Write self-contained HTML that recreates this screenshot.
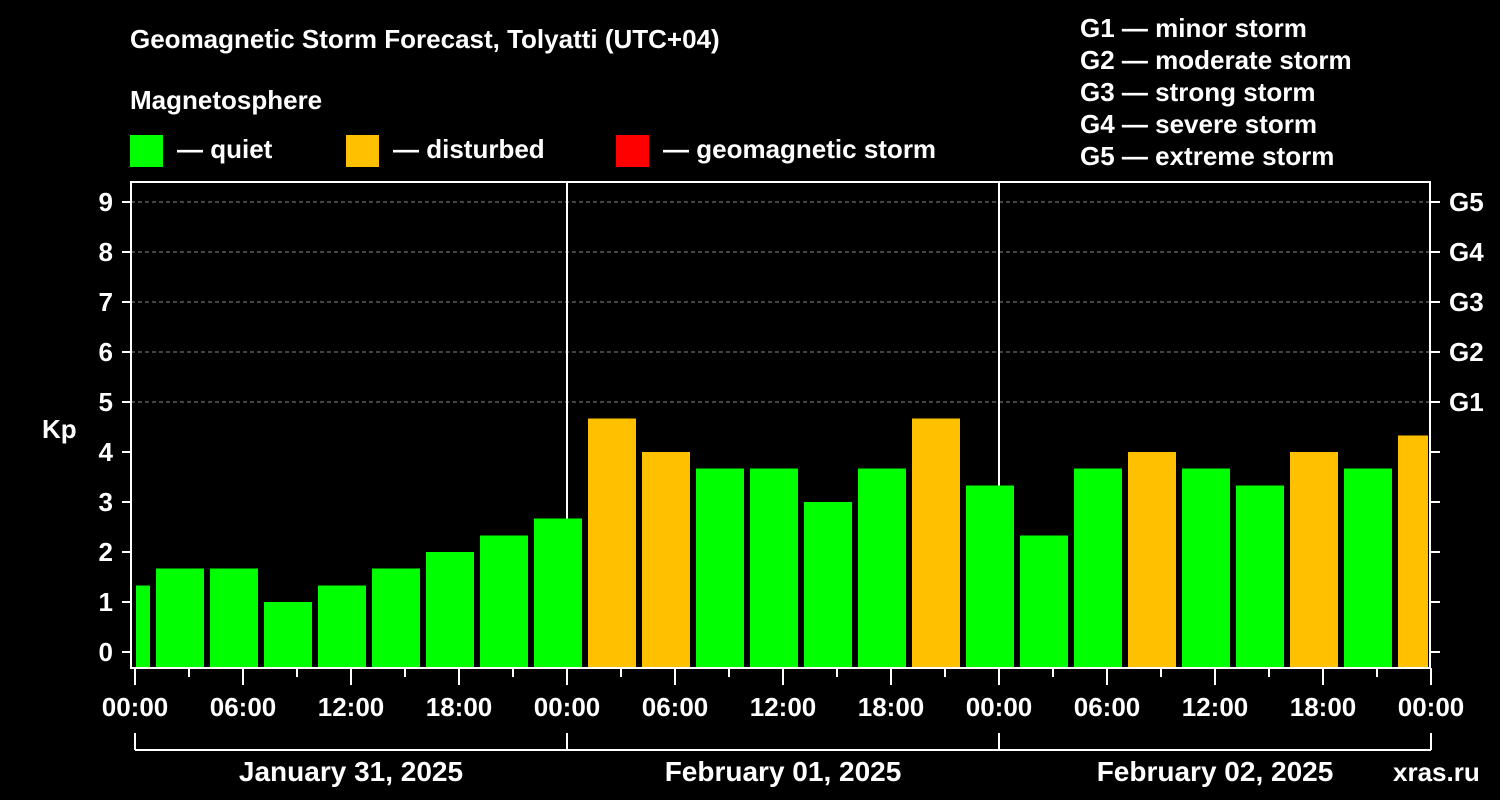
<!DOCTYPE html>
<html><head><meta charset="utf-8"><style>
html,body{margin:0;padding:0;background:#000;}
svg{display:block;font-family:"Liberation Sans",sans-serif;font-weight:bold;}
</style></head><body>
<svg id="chart" width="1500" height="800" viewBox="0 0 1500 800">
<rect width="1500" height="800" fill="#000"/>
<text x="130" y="48" fill="#fff" font-size="26">Geomagnetic Storm Forecast, Tolyatti (UTC+04)</text>
<text x="130" y="109" fill="#fff" font-size="26">Magnetosphere</text>
<g><rect x="130" y="135" width="33" height="32" fill="#00ff00"/><text x="177" y="158" fill="#fff" font-size="26">— quiet</text></g>
<g><rect x="346" y="135" width="33" height="32" fill="#ffc000"/><text x="393" y="158" fill="#fff" font-size="26">— disturbed</text></g>
<g><rect x="616" y="135" width="33" height="32" fill="#ff0000"/><text x="663" y="158" fill="#fff" font-size="26">— geomagnetic storm</text></g>
<g fill="#fff" font-size="26">
<text x="1080" y="37">G1 — minor storm</text>
<text x="1080" y="69">G2 — moderate storm</text>
<text x="1080" y="101">G3 — strong storm</text>
<text x="1080" y="133">G4 — severe storm</text>
<text x="1080" y="165">G5 — extreme storm</text>
</g>
<text x="42" y="438" fill="#fff" font-size="26">Kp</text>
<text x="1393" y="781" fill="#fff" font-size="26">xras.ru</text>
<g id="grid"></g><g id="bars"></g><g id="axes"></g>
</svg>
<script>
const kpValues=[1.33,1.67,1.67,1,1.33,1.67,2,2.33,2.67,4.67,4,3.67,3.67,3,3.67,4.67,3.33,2.33,3.67,4,3.67,3.33,4,3.67,4.33];
const hourTicks=["00:00","06:00","12:00","18:00","00:00","06:00","12:00","18:00","00:00","06:00","12:00","18:00","00:00"];
const dayLabels=["January 31, 2025","February 01, 2025","February 02, 2025"];
const kpTicks=[0,1,2,3,4,5,6,7,8,9];
const gLabels=["G1","G2","G3","G4","G5"];
const NS="http://www.w3.org/2000/svg";
const L=131,R=1430,T=182,B=668;
const x0=135,pxPerHour=18;
const xs=h=>x0+h*pxPerHour;
const ys=v=>652-v*50;
function mk(tag,attrs,parent,text){const e=document.createElementNS(NS,tag);for(const k in attrs)e.setAttribute(k,attrs[k]);if(text!==undefined)e.textContent=text;parent.appendChild(e);return e;}
const grid=document.getElementById('grid'),bars=document.getElementById('bars'),axes=document.getElementById('axes');
// gridlines
for(let v=5;v<=9;v++){const l=mk('line',{x1:L,x2:R,y1:ys(v),y2:ys(v),stroke:'#888','stroke-dasharray':'4,3','stroke-width':1},grid);

}
// bars
kpValues.forEach((v,i)=>{const c=xs(i*3-0.5);let a=c-24,b=c+24;a=Math.max(a,L+5);b=Math.min(b,R-2);
const col=v>=5?'#ff0000':(v>=4?'#ffc000':'#00ff00');
const r=mk('rect',{x:a,y:ys(v),width:b-a,height:B-ys(v),fill:col},bars);

});
// day separators
for(let d=1;d<3;d++){const l=mk('line',{x1:xs(d*24),x2:xs(d*24),y1:T,y2:B,stroke:'#fff','stroke-width':2},grid);

}
// frame
const fr=mk('rect',{x:L,y:T,width:R-L,height:B-T,fill:'none',stroke:'#fff','stroke-width':2},axes);


// y ticks
kpTicks.forEach(v=>{mk('line',{x1:122,x2:L,y1:ys(v),y2:ys(v),stroke:'#fff','stroke-width':2},axes);
mk('line',{x1:R,x2:1440,y1:ys(v),y2:ys(v),stroke:'#fff','stroke-width':2},axes);
const t=mk('text',{x:113,y:ys(v)+9,fill:'#fff','font-size':26,'text-anchor':'end'},axes,String(v));

});
gLabels.forEach((g,i)=>{const t=mk('text',{x:1449,y:ys(5+i)+9,fill:'#fff','font-size':26},axes,g);

});
// x ticks
for(let h=0;h<=72;h+=3){const major=h%6===0;mk('line',{x1:xs(h),x2:xs(h),y1:B,y2:major?685:677,stroke:'#fff','stroke-width':2},axes);}
hourTicks.forEach((s,i)=>{const t=mk('text',{x:xs(i*6),y:716,fill:'#fff','font-size':26,'text-anchor':'middle'},axes,s);

});
// day brackets
mk('line',{x1:xs(0),x2:xs(72),y1:750,y2:750,stroke:'#fff','stroke-width':2},axes);
for(let d=0;d<=3;d++)mk('line',{x1:xs(d*24),x2:xs(d*24),y1:733,y2:750,stroke:'#fff','stroke-width':2},axes);
dayLabels.forEach((s,i)=>{const t=mk('text',{x:xs(i*24+12),y:781,fill:'#fff','font-size':28,'text-anchor':'middle'},axes,s);

});
</script>
</body></html>
